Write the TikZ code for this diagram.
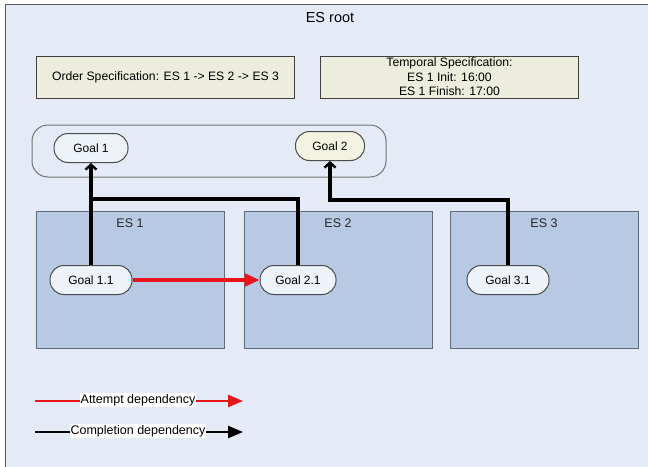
\documentclass[tikz,border=0pt]{standalone}
\usepackage{fontspec}
\setmainfont{Liberation Sans}
\usetikzlibrary{arrows.meta}
\definecolor{bgc}{HTML}{E4EAF6}
\definecolor{esfill}{HTML}{B7C9E3}
\definecolor{esdraw}{HTML}{5F6B7E}
\definecolor{specfill}{HTML}{EDEDDD}
\definecolor{goalfill}{HTML}{EEF2F9}
\definecolor{goaltwo}{HTML}{F3F3E2}
\definecolor{redline}{HTML}{E8161A}
\tikzset{
  specbox/.style={draw=black!75, fill=specfill, line width=1pt, minimum width=258pt, minimum height=42pt, inner sep=0pt, align=center, font=\fontsize{12.2}{14.5}\selectfont},
  esbox/.style={draw=esdraw, fill=esfill, line width=1pt, minimum width=188pt, minimum height=137pt, inner sep=0pt},
  eslabel/.style={font=\fontsize{12.5}{14}\selectfont, text=black!85},
  goal/.style={draw=black!70, fill=goalfill, line width=1pt, rounded corners=14pt, minimum height=29pt, inner sep=0pt, font=\fontsize{12}{14}\selectfont},
  comp/.style={line width=3.2pt, black, -{Straight Barb[length=5pt,width=11pt,line width=2.4pt]}},
  compline/.style={line width=3.2pt, black},
  att/.style={line width=3.2pt, redline, -{Triangle[length=15pt,width=13pt]}},
  legred/.style={line width=2.6pt, redline, -{Triangle[length=15pt,width=12pt]}},
  legblack/.style={line width=2.6pt, black, -{Triangle[length=15pt,width=12pt]}},
  leglabel/.style={fill=white, inner sep=1pt, font=\fontsize{12.5}{14}\selectfont}
}
\begin{document}
\begin{tikzpicture}[x=1pt,y=-1pt]
\useasboundingbox (0,0) rectangle (648,466);
\clip (0,0) rectangle (648,466);
\fill[white] (0,0) rectangle (648,466);
\draw[draw=black!65, fill=bgc, line width=1pt] (5.5,4.5) rectangle (660,480);
\node[font=\fontsize{14.5}{16}\selectfont] (root) at (330,18) {ES root};
\node[specbox] (order) at (165.5,77) {Order Specification: ES 1 -> ES 2 -> ES 3};
\node[specbox] (temp) at (449.5,77) {Temporal Specification:\\ES 1 Init: 16:00\\ES 1 Finish: 17:00};
\draw[draw=black!55, fill=bgc, line width=1pt, rounded corners=16pt] (32,125) rectangle (386,177);
\node[goal, minimum width=74pt] (g1) at (91,148) {Goal 1};
\node[goal, minimum width=69pt, fill=goaltwo] (g2) at (330,146) {Goal 2};
\node[esbox] (es1) at (130,279.5) {};
\node[esbox] (es2) at (338,279.5) {};
\node[esbox] (es3) at (544.5,279.5) {};
\node[eslabel] (l1) at (130,223) {ES 1};
\node[eslabel] (l2) at (338,223) {ES 2};
\node[eslabel] (l3) at (544,223) {ES 3};
\node[goal, minimum width=82pt] (g11) at (91,280) {Goal 1.1};
\node[goal, minimum width=76pt] (g21) at (298,280) {Goal 2.1};
\node[goal, minimum width=82pt] (g31) at (508,280) {Goal 3.1};
\coordinate (j1) at (91,199);
\coordinate (j2) at (420,200);
\draw[compline] (g21.north) |- (j1);
\draw[comp] (g11.north) -- (g1.south);
\draw[comp] (g31.north) |- (j2) -| (g2.south);
\draw[att] (g11.east) -- (g21.west);
\coordinate (a1) at (35,401);
\coordinate (a2) at (243,401);
\coordinate (b1) at (35,432);
\coordinate (b2) at (243,432);
\draw[legred] (a1) -- (a2);
\draw[legblack] (b1) -- (b2);
\node[leglabel] (la) at (138,400) {Attempt dependency};
\node[leglabel] (lb) at (138,431) {Completion dependency};
\end{tikzpicture}
\end{document}
